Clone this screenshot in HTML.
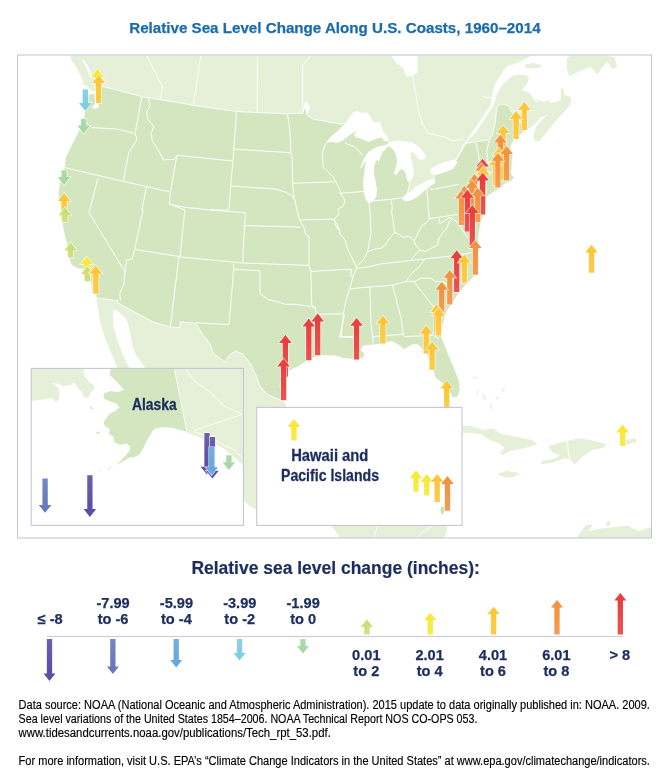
<!DOCTYPE html>
<html lang="en"><head><meta charset="utf-8"><title>Relative Sea Level Change Along U.S. Coasts, 1960–2014</title>
<style>html,body{margin:0;padding:0;background:#fff}svg{display:block}text{font-family:"Liberation Sans",Arial,sans-serif}</style></head><body>
<svg width="670" height="784" viewBox="0 0 670 784">
<rect width="670" height="784" fill="#fff"/>
<defs><linearGradient id="gv" x1="0" y1="0" x2="0" y2="1"><stop offset="0" stop-color="#6b60ac"/><stop offset="0.8" stop-color="#5b4fa3"/></linearGradient><linearGradient id="gbv" x1="0" y1="0" x2="0" y2="1"><stop offset="0" stop-color="#7785c3"/><stop offset="0.8" stop-color="#6878bd"/></linearGradient><linearGradient id="gb" x1="0" y1="0" x2="0" y2="1"><stop offset="0" stop-color="#74b0e1"/><stop offset="0.8" stop-color="#65a8de"/></linearGradient><linearGradient id="gc" x1="0" y1="0" x2="0" y2="1"><stop offset="0" stop-color="#89d3e4"/><stop offset="0.8" stop-color="#7ccfe2"/></linearGradient><linearGradient id="gg" x1="0" y1="0" x2="0" y2="1"><stop offset="0" stop-color="#aedbad"/><stop offset="0.8" stop-color="#a6d8a4"/></linearGradient><linearGradient id="gyg" x1="0" y1="0" x2="0" y2="1"><stop offset="0.2" stop-color="#cbdd74"/><stop offset="1" stop-color="#d0e081"/></linearGradient><linearGradient id="gy" x1="0" y1="0" x2="0" y2="1"><stop offset="0.2" stop-color="#f6e938"/><stop offset="1" stop-color="#f6eb4b"/></linearGradient><linearGradient id="ga" x1="0" y1="0" x2="0" y2="1"><stop offset="0.2" stop-color="#fcc636"/><stop offset="1" stop-color="#fccb4a"/></linearGradient><linearGradient id="go" x1="0" y1="0" x2="0" y2="1"><stop offset="0.2" stop-color="#f39240"/><stop offset="1" stop-color="#f49c53"/></linearGradient><linearGradient id="gr" x1="0" y1="0" x2="0" y2="1"><stop offset="0.2" stop-color="#e8403f"/><stop offset="1" stop-color="#ea5352"/></linearGradient><clipPath id="fr"><rect x="18" y="55.5" width="633.5" height="482.5"/></clipPath><clipPath id="ak"><rect x="31.2" y="368.4" width="212.2" height="156.9"/></clipPath><clipPath id="hib"><rect x="0" y="0" width="670" height="407.4"/></clipPath></defs>
<g clip-path="url(#fr)">
<path d="M70 55.5L70.1 55.3L71.3 59.6L77.3 69.1L82.6 79.9L82.6 89.4L84 97.8L84.5 112.1L83.3 121.6L78.5 131.2L71.3 145.5L65.4 157.5L64.2 167L59.4 183.7L58.2 193.3L60.6 207.6L61.8 221.9L64.2 233.9L66.6 243.4L67.8 255.4L71.3 264.9L77.3 268.5L85.7 269.7L89.3 279.3L94 291.2L96.4 297.9L97.5 306L100 321L104.8 337.8L110.7 352.1L116.7 366.4L119 372L150 400L200 470L243 500L250 506L257 510L300 520L331 525L340 538L445 538L448 525L440 500L380 470L300 440L283.6 400.3L282.4 395.5L280 386L282.4 378.8L289.6 370.4L297.9 366.9L305.1 362.1L314.6 357.3L324.2 355.4L336.1 356.1L343.3 358.5L352.8 359.2L354 360.3L363 358.5L364.8 354L361.2 349.6L363 346L371.9 345.1L380.9 344.2L391.6 341.5L398.8 345.1L404.2 349.6L411.4 345.1L416.7 344.2L422.1 348.7L427.5 355.8L430.4 365.8L434 373L435.2 377.8L440 381.3L443.6 384.9L449.6 392.1L453.1 398.1L457.9 396.9L460.3 389.7L459.1 380.1L454.3 368.2L448.4 353.9L441.2 336L441.5 329.4L445.1 317.5L447.5 310.3L453.4 301.9L459.4 292.4L466.6 284L472.5 278.1L478 272.6L479.5 266.1L478.7 255.4L479 241L478.4 237.5L481 223.1L483.7 214.2L484.6 201.6L487.3 196.3L492.7 192.7L499 189.1L505.2 183.7L511.5 181L514.2 177.5L511.5 174.8L512 165.8L512.8 155.1L510.9 146.1L513.9 140.1L518.4 137.2L522.1 132.7L527.3 129L530.3 127.5L534.8 124.5L540.7 117.8L547.5 114.5L549.7 113.3L542.2 119.3L536.3 126.7L533.3 135.7L534.8 140.9L539.3 141.6L543.7 135.7L549.7 128.2L557.2 119.3L564.6 111.8L570.6 104.3L571.3 98.4L569.1 96.9L564.6 102.1L560.1 99.9L555.7 102.1L549.7 103.1L540.7 103.6L536.3 102.1L532.5 96.9L528.8 92.4L522.1 89.4L526.6 84.9L528.8 79L527.3 75.2L519.9 74.5L512.4 76L504.9 82L499 89.4L496.5 95L494.2 104L483.4 121L471.8 137.2L470 135.4L479.9 121L487 110L490.6 105.8L492 95L494.5 84.9L499 77.5L504.2 70L507.2 66L514.3 64.3L523.9 59.6L532.2 55.3L532 55.5Z" fill="#e6f0d8"/>
<path d="M523.9 64.8L533.4 63.1L543 65.5L535.8 68.6L526.3 67.9Z" fill="#e6f0d8"/>
<path d="M560.9 89.4L563.3 88.2L564.5 95.4L570.4 96.6L566.9 103.7L562.1 103.7L560.9 97.8Z" fill="#e6f0d8"/>
<path d="M535.8 100.1L543 101.6L551.3 100.1L547.8 103.7L539.4 104Z" fill="#e6f0d8"/>
<path d="M566.9 58.4L571.6 55.3L605.1 55.3L614.6 57.2L617 66.7L612.2 69.1L607.5 61.9L602.7 66.7L597.9 73.9L594.3 71.5L590.7 66.7L578.8 71.5L569.3 76.3L566.9 69.1Z" fill="#e6f0d8"/>
<path d="M463 425.4L471.9 426.3L483.9 429.9L492.8 428.4L501.8 434.3L519.7 437.3L531.6 440.3L537.6 444.2L528.7 447.2L519.7 449.3L510.7 450.7L501.8 455.2L500.3 452.2L504.8 447.8L498.8 443.3L489.9 440.3L480.9 434.3L469 432.8L463 432.8Z" fill="#e6f0d8"/>
<path d="M548.1 446.3L558.5 443.3L570.4 440.3L579.4 438.2L591.3 440.3L606.3 444.2L603.3 447.8L591.3 450.7L582.4 456.7L574.9 464.2L570.4 459.7L564.5 458.2L552.5 462.7L540.6 464.2L542.1 461.2L555.5 458.2L560 455.2L552.5 452.2Z" fill="#e6f0d8"/>
<path d="M497.3 473.7L506.3 471L519.7 473.1L513.7 477L503.3 477Z" fill="#e6f0d8"/>
<path d="M622.7 440.3L636.1 438.2L636.7 441.8L625.7 444.8Z" fill="#e6f0d8"/>
<path d="M576.4 537.9L585.4 525.4L592.8 523.9L588.4 531.3L600.3 528.4L615.2 526.9L627.2 525.4L639.1 531.3L651 526.9L651 537.9Z" fill="#e6f0d8"/>
<path d="M605.7 522.4L609.3 520.9L610.7 524.8L606.9 526Z" fill="#e6f0d8"/>
<path d="M101.8 86L95.7 90.6L95.2 92.7L88.6 94.2L84.5 93.7L83.7 100.8L84.5 111L84 117.1L80.4 128.4L78.5 131.2L71.3 145.5L65.4 157.5L64.2 167L59.4 183.7L58.2 193.3L60.6 207.6L61.8 221.9L64.2 233.9L66.6 243.4L67.8 255.4L71.3 264.9L77.3 268.5L85.7 269.7L89.3 279.3L94 291.2L96.4 297.9L117.9 300.7L117.4 302.7L153.7 322.2L170.4 327L180 327.5L180 321.8L195.5 323.4L202.7 334.2L209.9 343.7L213.4 353.3L224.2 361.6L225.1 361.6L229.9 354.4L235.8 351.3L243 354.4L250.1 363.3L256.1 375.2L259.7 386L266.9 394.3L276.4 398.4L283.6 401.5L283.6 400.3L282.4 395.5L280 386L282.4 378.8L289.6 370.4L297.9 366.9L305.1 362.1L314.6 357.3L324.2 355.4L336.1 356.1L343.3 358.5L352.8 359.2L354 360.3L363 358.5L364.8 354L361.2 349.6L363 346L371.9 345.1L380.9 344.2L391.6 341.5L398.8 345.1L404.2 349.6L411.4 345.1L416.7 344.2L422.1 348.7L427.5 355.8L430.4 365.8L434 373L435.2 377.8L440 381.3L443.6 384.9L449.6 392.1L453.1 398.1L457.9 396.9L460.3 389.7L459.1 380.1L454.3 368.2L448.4 353.9L441.2 336L441.5 329.4L445.1 317.5L447.5 310.3L453.4 301.9L459.4 292.4L466.6 284L472.5 278.1L478 272.6L479.5 266.1L478.7 255.4L479 241L478.4 237.5L481 223.1L483.7 214.2L484.6 201.6L487.3 196.3L492.7 192.7L499 189.1L505.2 183.7L511.5 181L514.2 177.5L511.5 174.8L512 165.8L512.8 155.1L510.9 146.1L513.9 140.1L518.4 137.2L522.1 132.7L527.3 129L521 123L510.9 110.3L508.7 105.8L505.8 104.9L500.4 104L496.9 107.6L495.1 123.7L492.4 135.4L489.3 139.6L464.2 143.6L455.8 160.3L445.1 167L435.5 169.4L433.6 175.4L434.3 180.1L418.8 190.9L404.5 198.1L407.3 193.3L409.7 183.7L409.3 162.2L402.1 145.5L391.3 144.3L386.6 138.8L375.8 128.8L354.3 121.6L340 124L332.8 122.8L323.3 120.9L313.7 119.3L306.6 114.5L306.6 107.3L304.2 106.1L303 113.3L287.5 113.8L257.6 112.6L236.1 111.4L193.1 105.4L180 103L141.8 96.6L101.8 86Z" fill="#d3e6bf" stroke="#fff" stroke-width="0.9" stroke-linejoin="round"/>
<ellipse cx="484.2" cy="396.9" rx="1.6" ry="3.2" transform="rotate(-30 484.2 396.9)" fill="#e6f0d8" opacity="0.7"/>
<ellipse cx="491.3" cy="406.4" rx="1.4" ry="2.6" transform="rotate(-20 491.3 406.4)" fill="#e6f0d8" opacity="0.7"/>
<ellipse cx="474.6" cy="377.8" rx="2.2" ry="1.2" transform="rotate(-20 474.6 377.8)" fill="#e6f0d8" opacity="0.7"/>
<ellipse cx="503.3" cy="389.7" rx="1.2" ry="2.4" transform="rotate(30 503.3 389.7)" fill="#e6f0d8" opacity="0.7"/>
<ellipse cx="497" cy="398" rx="1.2" ry="2" transform="rotate(40 497 398)" fill="#e6f0d8" opacity="0.7"/>
<ellipse cx="478" cy="392" rx="1" ry="3.5" transform="rotate(10 478 392)" fill="#e6f0d8" opacity="0.7"/>
<path d="M326.3 142.1L330.7 136.7L336.1 132.2L341.5 126.9L346.9 121.5L349.6 117L353.1 112.5L356.7 110.7L362.1 112.9L367.5 112.2L371 117.9L373.7 122.4L380 121.5L381.8 126.9L383.6 132.2L386.3 134.9L388.1 138.5L387.2 142.1L383.6 140.3L381.8 137.6L377.3 138.5L372.8 140.3L368.4 142.1L364.8 140.3L360.3 138.5L355.8 137.6L354 134.9L356.7 131.3L353.1 133.1L348.7 135.8L345.1 138.5L341.5 141.2L337 143L332.5 142.1L326.3 142.6Z" fill="#fff"/>
<path d="M387.7 144.1L382.7 145.7L379.1 146.2L373.7 148.4L368.4 151.9L364.8 157.3L360.3 167.2L361.6 167.7L366.2 160L364.4 171.6L363 182.4L363.9 193.1L365.7 199.4L368.4 203L372.8 202.1L376.4 196.7L377 189.6L375.5 180.6L373.7 171.6L374.6 164.5L377.3 159.1L378.7 162.3L380.5 157L382.7 151.9L385.4 149.3L388.4 145.9Z" fill="#fff"/>
<path d="M387.7 143L391.6 141.6L398.8 140.8L406 141.6L413.1 143L417.6 145.7L421.2 149.3L424.8 153.7L425.7 158.2L422.1 160L417.6 159.1L415.8 155.5L413.1 151.9L410.5 153.7L411.3 159.1L413.1 166.3L414 173.4L412.2 178.8L408.7 182.8L406.9 179.7L406 175.2L404.2 170.8L401.5 169L398.8 171.6L396.1 175.2L393.8 173.4L395.2 169L397 162.7L396.1 155.5L394.3 151L390.8 147.5L388.1 145.7Z" fill="#fff"/>
<path d="M402.4 197.6L405.1 194.9L409.6 192.2L414.9 187.8L420.3 184.2L427.5 180.6L433.7 178.8L435.5 180.6L434.6 183.3L429.3 186.9L423.9 191.3L417.6 196.7L411.3 200.3L406 201.2L402.8 199.9Z" fill="#fff"/>
<path d="M429.6 171.8L431.9 168.2L435.5 165.8L445.1 161.8L454.6 159.4L457.5 162.2L453.4 168.7L442.7 173L434.3 175.4Z" fill="#fff"/>
<path d="M391.3 55.3L417.6 55.3L417.6 72.7L411.6 76.3L405.7 76.3L403.3 67.9L396.1 63.1Z" fill="#fff"/>
<path d="M303.7 103.7L306.6 101.3L310.1 107.3L307.8 113.3L304.7 109.7Z" fill="#fff"/>
<path d="M114.3 309.6L117.9 311.5L126.3 318.7L129.9 330.6L132.2 344.9L135.8 354.5L144.2 366.4L148 372L131 372L128.7 366.4L123.9 356.9L117.9 342.5L113.1 325.8L113.1 311.5Z" fill="#fff"/>
<path d="M78.9 84.3L86 85L90.6 89.8L95.2 91.4L95.7 93.9L88.6 94.2L86.7 89.8L80.4 89.8Z" fill="#fff"/>
<path d="M94.5 94.2L95.9 94.2L96.3 102.9L98.8 104.9L98.3 107.8L95.2 109L92.1 108L93.2 105.4L95.2 103.9Z" fill="#fff"/>
<path d="M81.9 60L84 60L88.1 66.1L90.6 73.3L92.4 76.8L90.6 77.3L89.1 73.8L86 66.6Z" fill="#fff"/>
<path d="M455.8 160.3L464.2 145.5L470.4 135.5" fill="none" stroke="#fff" stroke-width="1.3"/>
<path d="M482.1 96.6L490.4 97.8L493.3 100.6" fill="none" stroke="#fff" stroke-width="1"/>
<g fill="none" stroke="#fff" stroke-width="1" stroke-linejoin="round">
<path d="M141.8 96.6L135.3 132.4"/>
<path d="M85.7 121.6L91.6 127.6L115.5 128.8L135.3 133.6"/>
<path d="M135.3 133.6L137 139.6L128.7 152.7L123.2 181.3"/>
<path d="M64.2 167.5L123.2 181.3L170.4 192.1"/>
<path d="M98 177.9L89.1 212.7L125.1 272.1"/>
<path d="M146.6 186.8L141.8 210L143 210L134.6 249.4"/>
<path d="M148.2 97.8L150.1 106.1L146.6 112.1L147.8 119.3L153.7 126.4L151.3 133.6L152.5 141.9L157.3 147.9L160.9 155.1L163.3 159.9L174 159.4L176.9 155.3L232.1 161"/>
<path d="M176.9 155.3L170.4 192.1L169.3 204"/>
<path d="M169.3 204L180 206.4L180 206.4L187.2 207.6"/>
<path d="M236.6 111.6L233.7 149.1L233 161L230.6 186.1L229 210L211 210"/>
<path d="M233.7 149.1L291 152.7"/>
<path d="M287.5 113.8L289.9 131.2L291 152.7L292.2 159.9L292.7 183.3L293.4 193.3L297 210L297 210L299.4 219.6L304.2 227.9L305.4 233.9L309 236.3L309 265.4L310.9 272.1L311.8 305.5L315.6 307.9L316.1 313.9L319.7 353.3"/>
<path d="M230.6 186.1L275.5 189L285.1 192.1L292.2 195.7L294.1 199.3"/>
<path d="M292.7 183.3L335.2 181.8"/>
<path d="M326.1 143.1L322.1 152.7L323.3 167L332.8 176.6L336.4 182.5L340 190.9L340 193.3"/>
<path d="M125.1 272.1L126.3 260.1L132.2 259L134.6 249.4"/>
<path d="M125.1 272.1L123.9 284L119.8 293.6L120.3 300.7"/>
<path d="M134.6 249.4L180 256.6L180 257L242.6 263L309 265.4"/>
<path d="M178.8 256.6L170.4 327"/>
<path d="M169.3 204L184.8 210L180 256.6"/>
<path d="M187.2 207.6L211 210L245.7 212.9L244.5 225.5L242.6 263"/>
<path d="M244.5 225.5L300.6 227.2"/>
<path d="M233.7 263.7L233.7 269.7L229 324.6L195.5 322.7"/>
<path d="M233.7 269.2L260 270.9L260 293.6L268.4 299.6L277.9 301.9L285.1 304.3L294.6 304.3L304.2 305.5L311.3 306.7L315.6 307.9"/>
<path d="M299.4 220L332.8 219.1L336.4 223.1L340 231.5L340 233.9L344.8 239.9L348.4 250.6L353.1 260.1L356.7 267.3L353.1 276.9L349.6 288.8L346 300.7L343.6 312.7L342.4 324.6L341.2 336.6L354.3 336.6L356.7 346.1L360.3 358.1"/>
<path d="M310.1 271.6L340 269.7L340 269.7L351.9 269.2L350.7 275.7L353.1 276.9"/>
<path d="M316.6 314.4L340 313.9L340 313.9L343.6 313.2"/>
<path d="M344.8 143.1L354.3 146.7L362.7 155.1"/>
<path d="M340 193.3L363.9 191.4"/>
<path d="M373.4 200.9L391.3 199.3L403.3 197.6"/>
<path d="M391.3 199.3L392.5 210L391.3 210L394.9 232.7"/>
<path d="M426.9 188.8L429.3 218.4"/>
<path d="M431 187.9L431 189.7L458.8 184.3"/>
<path d="M476.1 143.1L478.5 155.1L479.7 164.6L480.9 179"/>
<path d="M489.3 140.3L486.9 150.3L488.1 164.6"/>
<path d="M479.7 164.6L495.2 161"/>
<path d="M480.9 174.2L492.8 171.8"/>
<path d="M368.7 201.6L369.9 210L371 233.9L367.5 251.8"/>
<path d="M356.7 266.8L363.9 259L367.5 251.8L373.4 249.4L379.4 248.2L380 248.8L385.4 245.2L389 239L394.3 232.7L397.9 233.6L403.3 237.2L409.6 236.3L414 240.8L416.7 236.3L418.5 231.8L422.1 225.5L426.6 222.8L429.3 218.4"/>
<path d="M356.7 268.5L368.7 266.8L380 264L410.4 260.5L451.6 256L473.1 252.4L480.3 251"/>
<path d="M410.4 260.5L415.8 254.2L420.3 250.2L415.8 245.2L414 240.8"/>
<path d="M420.3 250.2L425.7 251.5L430.2 248.8L437.3 245.2L439.1 238.1L442.7 232.7L447.2 227.3L449 221.9L452.5 218.4L457 221.9L460.6 227.3L464.2 232.7L467.8 238.1"/>
<path d="M439.1 218.4L440 223.7L444.5 221L449 217.5L452.5 218.4"/>
<path d="M429.3 218.7L457.9 214.4"/>
<path d="M349.6 288.8L369.9 286.9L392.5 285.2L405.7 281.6L414 281.2"/>
<path d="M424.8 259L418.8 267.3L411.6 273.3L405.7 281.6"/>
<path d="M414 281.6L421.2 278.1L430.7 278.1L435.5 281.6L442.7 281.6L459.4 292.4"/>
<path d="M369.9 286.9L371 324.6L373.4 343.7"/>
<path d="M392.5 285.2L400.9 317.5L403.3 334.2"/>
<path d="M372.2 336.6L403.3 334.2L404.5 336.6L433.1 335.4L439.1 339"/>
<path d="M414 281.6L421.2 291.2L430.7 303.1L440.3 315.1L443.9 318.7"/>
<path d="M344.5 314.3L339.7 337L352.8 337.7"/>
<path d="M340.2 193.3L343.4 197.5L345.2 201.9L342.5 206.4L338.1 209.1L339 213.6L336.3 217.2L334.1 219L335.4 225.2L339 230.6"/>
</g>
<g fill="none" stroke="#fff" stroke-width="0.9">
<path d="M377.4 526.6L373.7 538M431.5 526.6L424 531L416.6 538M567.5 441.8L568.2 450L569.5 460"/>
<path d="M146.6 55.3L153.7 69.1L162.1 85.8L160.9 99"/>
<path d="M201 55.3L193.1 105.4"/>
<path d="M257.6 55.3L257.1 112.6"/>
<path d="M311.3 55.3L302.5 65.5L302.5 112.6"/>
<path d="M412.8 76.3L415.2 90.6L418.8 112.1L422.4 124L429.6 133.6L445.1 137.2L452.2 140.7L464.2 138.8"/>
</g>
</g>
<rect x="17.5" y="55" width="634" height="483" fill="none" stroke="#c5c5d9" stroke-width="1.05"/>
<path d="M97.55 69L103.85 76.9L100.2 76.9L100.2 90.5L94.9 90.5L94.9 76.9L91.25 76.9Z" fill="url(#gy)" stroke="#fff" stroke-width="1.3" stroke-opacity="0.8" paint-order="stroke" stroke-linejoin="miter"/>
<path d="M98.6 75.1L104.9 83L101.25 83L101.25 103.1L95.95 103.1L95.95 83L92.3 83Z" fill="url(#ga)" stroke="#fff" stroke-width="1.3" stroke-opacity="0.8" paint-order="stroke" stroke-linejoin="miter"/>
<path d="M85.3 110.8L91.6 102.9L87.95 102.9L87.95 89.6L82.65 89.6L82.65 102.9L79 102.9Z" fill="url(#gc)" stroke="#fff" stroke-width="1.3" stroke-opacity="0.8" paint-order="stroke" stroke-linejoin="miter"/>
<path d="M83.7 133.5L90 125.6L86.35 125.6L86.35 118.7L81.05 118.7L81.05 125.6L77.4 125.6Z" fill="url(#gg)" stroke="#fff" stroke-width="1.3" stroke-opacity="0.8" paint-order="stroke" stroke-linejoin="miter"/>
<path d="M64.1 185L70.4 177.1L66.75 177.1L66.75 170.2L61.45 170.2L61.45 177.1L57.8 177.1Z" fill="url(#gg)" stroke="#fff" stroke-width="1.3" stroke-opacity="0.8" paint-order="stroke" stroke-linejoin="miter"/>
<path d="M64.1 193L70.4 200.9L66.75 200.9L66.75 221L61.45 221L61.45 200.9L57.8 200.9Z" fill="url(#ga)" stroke="#fff" stroke-width="1.3" stroke-opacity="0.8" paint-order="stroke" stroke-linejoin="miter"/>
<path d="M65 207.3L71.3 215.2L67.65 215.2L67.65 222.3L62.35 222.3L62.35 215.2L58.7 215.2Z" fill="url(#gyg)" stroke="#fff" stroke-width="1.3" stroke-opacity="0.8" paint-order="stroke" stroke-linejoin="miter"/>
<path d="M70.7 242.5L77 250.4L73.35 250.4L73.35 257.5L68.05 257.5L68.05 250.4L64.4 250.4Z" fill="url(#gyg)" stroke="#fff" stroke-width="1.3" stroke-opacity="0.8" paint-order="stroke" stroke-linejoin="miter"/>
<path d="M86.8 256.4L93.1 264.3L89.45 264.3L89.45 277.9L84.15 277.9L84.15 264.3L80.5 264.3Z" fill="url(#gy)" stroke="#fff" stroke-width="1.3" stroke-opacity="0.8" paint-order="stroke" stroke-linejoin="miter"/>
<path d="M87.3 266.3L93.6 274.2L89.95 274.2L89.95 281.3L84.65 281.3L84.65 274.2L81 274.2Z" fill="url(#gyg)" stroke="#fff" stroke-width="1.3" stroke-opacity="0.8" paint-order="stroke" stroke-linejoin="miter"/>
<path d="M95.3 264.6L101.6 272.5L97.95 272.5L97.95 292.6L92.65 292.6L92.65 272.5L89 272.5Z" fill="url(#ga)" stroke="#fff" stroke-width="1.3" stroke-opacity="0.8" paint-order="stroke" stroke-linejoin="miter"/>
<path d="M95.9 265.8L102.2 273.7L98.55 273.7L98.55 293.8L93.25 293.8L93.25 273.7L89.6 273.7Z" fill="url(#ga)" stroke="#fff" stroke-width="1.3" stroke-opacity="0.8" paint-order="stroke" stroke-linejoin="miter"/>
<path d="M285.4 335L291.7 342.9L288.05 342.9L288.05 376.7L282.75 376.7L282.75 342.9L279.1 342.9Z" fill="url(#gr)" stroke="#fff" stroke-width="1.3" stroke-opacity="0.8" paint-order="stroke" stroke-linejoin="miter"/>
<path d="M283.6 358.6L289.9 366.5L286.25 366.5L286.25 400.3L280.95 400.3L280.95 366.5L277.3 366.5Z" fill="url(#gr)" stroke="#fff" stroke-width="1.3" stroke-opacity="0.8" paint-order="stroke" stroke-linejoin="miter"/>
<path d="M308.8 318.5L315.1 326.4L311.45 326.4L311.45 360.2L306.15 360.2L306.15 326.4L302.5 326.4Z" fill="url(#gr)" stroke="#fff" stroke-width="1.3" stroke-opacity="0.8" paint-order="stroke" stroke-linejoin="miter"/>
<path d="M317.7 313.6L324 321.5L320.35 321.5L320.35 355.3L315.05 355.3L315.05 321.5L311.4 321.5Z" fill="url(#gr)" stroke="#fff" stroke-width="1.3" stroke-opacity="0.8" paint-order="stroke" stroke-linejoin="miter"/>
<path d="M356.6 317.9L362.9 325.8L359.25 325.8L359.25 359.6L353.95 359.6L353.95 325.8L350.3 325.8Z" fill="url(#gr)" stroke="#fff" stroke-width="1.3" stroke-opacity="0.8" paint-order="stroke" stroke-linejoin="miter"/>
<path d="M382.9 315.5L389.2 323.4L385.55 323.4L385.55 343.5L380.25 343.5L380.25 323.4L376.6 323.4Z" fill="url(#ga)" stroke="#fff" stroke-width="1.3" stroke-opacity="0.8" paint-order="stroke" stroke-linejoin="miter"/>
<path d="M524.3 102.1L530.6 110L526.95 110L526.95 130.1L521.65 130.1L521.65 110L518 110Z" fill="url(#ga)" stroke="#fff" stroke-width="1.3" stroke-opacity="0.8" paint-order="stroke" stroke-linejoin="miter"/>
<path d="M516.1 111L522.4 118.9L518.75 118.9L518.75 139L513.45 139L513.45 118.9L509.8 118.9Z" fill="url(#ga)" stroke="#fff" stroke-width="1.3" stroke-opacity="0.8" paint-order="stroke" stroke-linejoin="miter"/>
<path d="M503.1 125.2L509.4 133.1L505.75 133.1L505.75 153.2L500.45 153.2L500.45 133.1L496.8 133.1Z" fill="url(#ga)" stroke="#fff" stroke-width="1.3" stroke-opacity="0.8" paint-order="stroke" stroke-linejoin="miter"/>
<path d="M500.4 134.5L506.7 142.4L503.05 142.4L503.05 169.1L497.75 169.1L497.75 142.4L494.1 142.4Z" fill="url(#go)" stroke="#fff" stroke-width="1.3" stroke-opacity="0.8" paint-order="stroke" stroke-linejoin="miter"/>
<path d="M499 147.6L505.3 155.5L501.65 155.5L501.65 175.6L496.35 175.6L496.35 155.5L492.7 155.5Z" fill="url(#ga)" stroke="#fff" stroke-width="1.3" stroke-opacity="0.8" paint-order="stroke" stroke-linejoin="miter"/>
<path d="M501.5 152.6L507.8 160.5L504.15 160.5L504.15 180.6L498.85 180.6L498.85 160.5L495.2 160.5Z" fill="url(#ga)" stroke="#fff" stroke-width="1.3" stroke-opacity="0.8" paint-order="stroke" stroke-linejoin="miter"/>
<path d="M506.7 146L513 153.9L509.35 153.9L509.35 180.6L504.05 180.6L504.05 153.9L500.4 153.9Z" fill="url(#go)" stroke="#fff" stroke-width="1.3" stroke-opacity="0.8" paint-order="stroke" stroke-linejoin="miter"/>
<path d="M495.5 157L501.8 164.9L498.15 164.9L498.15 185L492.85 185L492.85 164.9L489.2 164.9Z" fill="url(#ga)" stroke="#fff" stroke-width="1.3" stroke-opacity="0.8" paint-order="stroke" stroke-linejoin="miter"/>
<path d="M497.9 152.9L504.2 160.8L500.55 160.8L500.55 187.5L495.25 187.5L495.25 160.8L491.6 160.8Z" fill="url(#go)" stroke="#fff" stroke-width="1.3" stroke-opacity="0.8" paint-order="stroke" stroke-linejoin="miter"/>
<path d="M482.65 158.7L488.95 166.6L485.3 166.6L485.3 200.4L480 200.4L480 166.6L476.35 166.6Z" fill="url(#gr)" stroke="#fff" stroke-width="1.3" stroke-opacity="0.8" paint-order="stroke" stroke-linejoin="miter"/>
<path d="M481.6 162.8L487.9 170.7L484.25 170.7L484.25 197.4L478.95 197.4L478.95 170.7L475.3 170.7Z" fill="url(#go)" stroke="#fff" stroke-width="1.3" stroke-opacity="0.8" paint-order="stroke" stroke-linejoin="miter"/>
<path d="M483.2 166.8L489.5 174.7L485.85 174.7L485.85 194.8L480.55 194.8L480.55 174.7L476.9 174.7Z" fill="url(#ga)" stroke="#fff" stroke-width="1.3" stroke-opacity="0.8" paint-order="stroke" stroke-linejoin="miter"/>
<path d="M474.5 174L480.8 181.9L477.15 181.9L477.15 208.6L471.85 208.6L471.85 181.9L468.2 181.9Z" fill="url(#go)" stroke="#fff" stroke-width="1.3" stroke-opacity="0.8" paint-order="stroke" stroke-linejoin="miter"/>
<path d="M471.9 180.1L478.2 188L474.55 188L474.55 214.7L469.25 214.7L469.25 188L465.6 188Z" fill="url(#go)" stroke="#fff" stroke-width="1.3" stroke-opacity="0.8" paint-order="stroke" stroke-linejoin="miter"/>
<path d="M482.65 172.7L488.95 180.6L485.3 180.6L485.3 214.4L480 214.4L480 180.6L476.35 180.6Z" fill="url(#gr)" stroke="#fff" stroke-width="1.3" stroke-opacity="0.8" paint-order="stroke" stroke-linejoin="miter"/>
<path d="M464.3 185.7L470.6 193.6L466.95 193.6L466.95 220.3L461.65 220.3L461.65 193.6L458 193.6Z" fill="url(#go)" stroke="#fff" stroke-width="1.3" stroke-opacity="0.8" paint-order="stroke" stroke-linejoin="miter"/>
<path d="M461.4 190.5L467.7 198.4L464.05 198.4L464.05 225.1L458.75 225.1L458.75 198.4L455.1 198.4Z" fill="url(#go)" stroke="#fff" stroke-width="1.3" stroke-opacity="0.8" paint-order="stroke" stroke-linejoin="miter"/>
<path d="M477.75 187.75L484.05 195.65L480.4 195.65L480.4 222.35L475.1 222.35L475.1 195.65L471.45 195.65Z" fill="url(#go)" stroke="#fff" stroke-width="1.3" stroke-opacity="0.8" paint-order="stroke" stroke-linejoin="miter"/>
<path d="M467.4 189.8L473.7 197.7L470.05 197.7L470.05 231.5L464.75 231.5L464.75 197.7L461.1 197.7Z" fill="url(#gr)" stroke="#fff" stroke-width="1.3" stroke-opacity="0.8" paint-order="stroke" stroke-linejoin="miter"/>
<path d="M472.3 205.1L478.6 213L474.95 213L474.95 246.8L469.65 246.8L469.65 213L466 213Z" fill="url(#gr)" stroke="#fff" stroke-width="1.3" stroke-opacity="0.8" paint-order="stroke" stroke-linejoin="miter"/>
<path d="M475.35 240.2L481.65 248.1L478 248.1L478 274.8L472.7 274.8L472.7 248.1L469.05 248.1Z" fill="url(#go)" stroke="#fff" stroke-width="1.3" stroke-opacity="0.8" paint-order="stroke" stroke-linejoin="miter"/>
<path d="M456.7 250.3L463 258.2L459.35 258.2L459.35 292L454.05 292L454.05 258.2L450.4 258.2Z" fill="url(#gr)" stroke="#fff" stroke-width="1.3" stroke-opacity="0.8" paint-order="stroke" stroke-linejoin="miter"/>
<path d="M464.4 254.75L470.7 262.65L467.05 262.65L467.05 282.75L461.75 282.75L461.75 262.65L458.1 262.65Z" fill="url(#ga)" stroke="#fff" stroke-width="1.3" stroke-opacity="0.8" paint-order="stroke" stroke-linejoin="miter"/>
<path d="M449.8 269.9L456.1 277.8L452.45 277.8L452.45 304.5L447.15 304.5L447.15 277.8L443.5 277.8Z" fill="url(#go)" stroke="#fff" stroke-width="1.3" stroke-opacity="0.8" paint-order="stroke" stroke-linejoin="miter"/>
<path d="M441.7 281.8L448 289.7L444.35 289.7L444.35 316.4L439.05 316.4L439.05 289.7L435.4 289.7Z" fill="url(#go)" stroke="#fff" stroke-width="1.3" stroke-opacity="0.8" paint-order="stroke" stroke-linejoin="miter"/>
<path d="M436.7 304.3L443 312.2L439.35 312.2L439.35 332.3L434.05 332.3L434.05 312.2L430.4 312.2Z" fill="url(#ga)" stroke="#fff" stroke-width="1.3" stroke-opacity="0.8" paint-order="stroke" stroke-linejoin="miter"/>
<path d="M438.6 307.6L444.9 315.5L441.25 315.5L441.25 335.6L435.95 335.6L435.95 315.5L432.3 315.5Z" fill="url(#ga)" stroke="#fff" stroke-width="1.3" stroke-opacity="0.8" paint-order="stroke" stroke-linejoin="miter"/>
<path d="M426.2 325.6L432.5 333.5L428.85 333.5L428.85 353.6L423.55 353.6L423.55 333.5L419.9 333.5Z" fill="url(#ga)" stroke="#fff" stroke-width="1.3" stroke-opacity="0.8" paint-order="stroke" stroke-linejoin="miter"/>
<path d="M432.1 341.8L438.4 349.7L434.75 349.7L434.75 369.8L429.45 369.8L429.45 349.7L425.8 349.7Z" fill="url(#ga)" stroke="#fff" stroke-width="1.3" stroke-opacity="0.8" paint-order="stroke" stroke-linejoin="miter"/>
<path d="M446.7 380.6L453 388.5L449.35 388.5L449.35 408.6L444.05 408.6L444.05 388.5L440.4 388.5Z" fill="url(#ga)" stroke="#fff" stroke-width="1.3" stroke-opacity="0.8" paint-order="stroke" stroke-linejoin="miter"/>
<path d="M591.5 244.7L597.8 252.6L594.15 252.6L594.15 272.7L588.85 272.7L588.85 252.6L585.2 252.6Z" fill="url(#ga)" stroke="#fff" stroke-width="1.3" stroke-opacity="0.8" paint-order="stroke" stroke-linejoin="miter"/>
<path d="M622.7 424.5L629 432.4L625.35 432.4L625.35 446L620.05 446L620.05 432.4L616.4 432.4Z" fill="url(#gy)" stroke="#fff" stroke-width="1.3" stroke-opacity="0.8" paint-order="stroke" stroke-linejoin="miter"/>
<rect x="31.2" y="368.4" width="212.2" height="156.9" fill="#fff"/>
<g clip-path="url(#ak)">
<path d="M30 368.6L83.7 368.6L84.6 375.7L89.1 382L93.6 384.7L94.5 390.1L90.9 391.9L88.2 398.1L83.7 397.2L81.9 391.9L77.5 387.4L73.9 382L71.2 384.7L67.6 385.6L63.1 386.5L58.7 383.8L51.5 382.9L56.9 386.5L59.6 391.9L58.7 399.9L55.1 401.7L52.4 398.1L46.1 399L39 399.9L30 400.8Z" fill="#e6f0d8"/>
<path d="M174.2 368.4L243.4 368.4L243.4 462.7L235.1 455.5L220.7 443.6L208.8 438.8L194.5 432.8L186.6 430.4Z" fill="#e6f0d8"/>
<path d="M110.6 368.6L174.2 368.4L186.6 430.4L186.1 431.6L173 428.1L161 426.9L153.9 429.3L150.3 434.5L147.9 438.8L143.1 448.8L139.6 454.3L133.6 457.4L130.3 457.2L121.3 462.6L116.9 464.4L119.6 461.7L124.9 456.3L129.4 451L130.3 446.5L126.7 443.8L119.6 444.7L114.2 442L113.3 436.6L108.8 434L109.7 428.6L105.2 426.8L103.4 422.3L107.9 416L111.5 412.5L116 410.7L119.6 407.1L116 403.5L108.8 400.8L104.3 399L103.4 393.7L110.6 391L117.8 391.9L124 390.1L119.6 384.7L114.2 379.3L109.7 374.9Z" fill="#d3e6bf"/>
<path d="M96.6 431.6L99.9 432.3L99 434.1L96.3 433.4Z" fill="#d3e6bf"/>
<path d="M88.2 405.8L91.8 407.6L93.6 409.8L90.9 409.1Z" fill="#d3e6bf"/>
<path d="M114.2 465.3L110.6 468L107 469.8L108.1 468.5L111.5 466.4Z" fill="#d3e6bf"/>
<path d="M101.6 470.7L98.1 472.5L98.8 471.4Z" fill="#d3e6bf"/>
<path d="M89.1 475.2L83.7 477.5L84.8 476.2Z" fill="#d3e6bf"/>
<path d="M186.6 430.4L194.5 430.4L208.8 435.9L221.9 441.2L236.3 453.1L243.4 460.3L243.4 465.1L235.1 457.9L220.7 446.4L208.8 441.2L194.5 435.2L186.1 432.1Z" fill="#e6f0d8"/>
<g fill="none" stroke="#fff" stroke-width="0.8">
<path d="M193.6 431.6L207 436L222 444L234.8 450.4L243 458"/>
<path d="M174.2 368.4L186.6 430.4"/>
<path d="M194.5 430.4L242.2 414.4"/>
<path d="M186.1 368.4L192.1 379.1L208.8 391L223.1 405.4L235.1 411.3L242.2 413.7"/>
</g></g>
<rect x="31.2" y="368.4" width="212.2" height="156.9" fill="none" stroke="#c5c5d9" stroke-width="1.1"/>
<path d="M45.1 512.8L51.4 504.9L47.75 504.9L47.75 478.5L42.45 478.5L42.45 504.9L38.8 504.9Z" fill="url(#gbv)" stroke="#fff" stroke-width="1.3" stroke-opacity="0.8" paint-order="stroke" stroke-linejoin="miter"/>
<path d="M89.9 516.9L96.2 509L92.55 509L92.55 475.3L87.25 475.3L87.25 509L83.6 509Z" fill="url(#gv)" stroke="#fff" stroke-width="1.3" stroke-opacity="0.8" paint-order="stroke" stroke-linejoin="miter"/>
<path d="M207 474.6L213.3 466.7L209.65 466.7L209.65 433L204.35 433L204.35 466.7L200.7 466.7Z" fill="url(#gv)" stroke="#fff" stroke-width="1.3" stroke-opacity="0.8" paint-order="stroke" stroke-linejoin="miter"/>
<path d="M212.4 478.6L218.7 470.7L215.05 470.7L215.05 437L209.75 437L209.75 470.7L206.1 470.7Z" fill="url(#gv)" stroke="#fff" stroke-width="1.3" stroke-opacity="0.8" paint-order="stroke" stroke-linejoin="miter"/>
<path d="M211.7 475.1L218 467.2L214.35 467.2L214.35 447.1L209.05 447.1L209.05 467.2L205.4 467.2Z" fill="url(#gb)" stroke="#fff" stroke-width="1.3" stroke-opacity="0.8" paint-order="stroke" stroke-linejoin="miter"/>
<path d="M228.9 470.1L235.2 462.2L231.55 462.2L231.55 455.3L226.25 455.3L226.25 462.2L222.6 462.2Z" fill="url(#gg)" stroke="#fff" stroke-width="1.3" stroke-opacity="0.8" paint-order="stroke" stroke-linejoin="miter"/>
<rect x="256.7" y="407.4" width="205.3" height="118" fill="#fff" stroke="#c5c5d9" stroke-width="1.1"/>
<path d="M440.4 510l1-3 2.5-0.6 0.8 2.6-0.6 3-1.2 2.2-2-0.4z" fill="#c9e0b8"/>
<path d="M293.9 419L300.2 426.9L296.55 426.9L296.55 440.5L291.25 440.5L291.25 426.9L287.6 426.9Z" fill="url(#gy)" stroke="#fff" stroke-width="1.3" stroke-opacity="0.8" paint-order="stroke" stroke-linejoin="miter"/>
<path d="M416 470.3L422.3 478.2L418.65 478.2L418.65 491.8L413.35 491.8L413.35 478.2L409.7 478.2Z" fill="url(#gy)" stroke="#fff" stroke-width="1.3" stroke-opacity="0.8" paint-order="stroke" stroke-linejoin="miter"/>
<path d="M426.75 474L433.05 481.9L429.4 481.9L429.4 495.5L424.1 495.5L424.1 481.9L420.45 481.9Z" fill="url(#gy)" stroke="#fff" stroke-width="1.3" stroke-opacity="0.8" paint-order="stroke" stroke-linejoin="miter"/>
<path d="M437.2 473.9L443.5 481.8L439.85 481.8L439.85 501.9L434.55 501.9L434.55 481.8L430.9 481.8Z" fill="url(#ga)" stroke="#fff" stroke-width="1.3" stroke-opacity="0.8" paint-order="stroke" stroke-linejoin="miter"/>
<path d="M447.5 476.1L453.8 484L450.15 484L450.15 510.7L444.85 510.7L444.85 484L441.2 484Z" fill="url(#go)" stroke="#fff" stroke-width="1.3" stroke-opacity="0.8" paint-order="stroke" stroke-linejoin="miter"/>
<text x="132" y="409.7" font-size="16" font-weight="bold" fill="#1c2d5e" text-anchor="start" textLength="44.6" lengthAdjust="spacingAndGlyphs" stroke="#1c2d5e" stroke-width="0.3">Alaska</text>
<text x="291.2" y="461.4" font-size="16.4" font-weight="bold" fill="#1c2d5e" text-anchor="start" textLength="77.2" lengthAdjust="spacingAndGlyphs" stroke="#1c2d5e" stroke-width="0.3">Hawaii and</text>
<text x="281" y="481.1" font-size="16.4" font-weight="bold" fill="#1c2d5e" text-anchor="start" textLength="98" lengthAdjust="spacingAndGlyphs" stroke="#1c2d5e" stroke-width="0.3">Pacific Islands</text>
<text x="129.2" y="32.6" font-size="15.3" font-weight="bold" fill="#1a6cad" text-anchor="start" textLength="411.4" lengthAdjust="spacingAndGlyphs" stroke="#1a6cad" stroke-width="0.25">Relative Sea Level Change Along U.S. Coasts, 1960–2014</text>
<text x="191.4" y="573.9" font-size="18" font-weight="bold" fill="#1c2d5e" text-anchor="start" textLength="288.4" lengthAdjust="spacingAndGlyphs" stroke="#1c2d5e" stroke-width="0.2">Relative sea level change (inches):</text>
<rect x="46.7" y="635.9" width="576.1" height="1.2" fill="#cdcdde"/>
<path d="M49.5 681L55.5 673.6L52.15 673.6L52.15 639L46.85 639L46.85 673.6L43.5 673.6Z" fill="url(#gv)"/>
<path d="M112.86 674L118.86 666.6L115.51 666.6L115.51 639L110.21 639L110.21 666.6L106.86 666.6Z" fill="url(#gbv)"/>
<path d="M176.22 667.5L182.22 660.1L178.87 660.1L178.87 639L173.57 639L173.57 660.1L170.22 660.1Z" fill="url(#gb)"/>
<path d="M239.58 660.5L245.58 653.1L242.23 653.1L242.23 639L236.93 639L236.93 653.1L233.58 653.1Z" fill="url(#gc)"/>
<path d="M302.94 653.5L308.94 646.1L305.59 646.1L305.59 639L300.29 639L300.29 646.1L296.94 646.1Z" fill="url(#gg)"/>
<path d="M366.9 619.5L372.9 626.9L369.55 626.9L369.55 634.5L364.25 634.5L364.25 626.9L360.9 626.9Z" fill="url(#gyg)"/>
<path d="M430.26 612.7L436.26 620.1L432.91 620.1L432.91 634.5L427.61 634.5L427.61 620.1L424.26 620.1Z" fill="url(#gy)"/>
<path d="M493.62 606.7L499.62 614.1L496.27 614.1L496.27 634.5L490.97 634.5L490.97 614.1L487.62 614.1Z" fill="url(#ga)"/>
<path d="M556.98 600L562.98 607.4L559.63 607.4L559.63 634.5L554.33 634.5L554.33 607.4L550.98 607.4Z" fill="url(#go)"/>
<path d="M620.34 593L626.34 600.4L622.99 600.4L622.99 634.5L617.69 634.5L617.69 600.4L614.34 600.4Z" fill="url(#gr)"/>
<text x="50.2" y="624.4" font-size="14.6" font-weight="bold" fill="#1c2d5e" text-anchor="middle" stroke="#1c2d5e" stroke-width="0.25">≤ -8</text>
<text x="113.06" y="608.2" font-size="14.6" font-weight="bold" fill="#1c2d5e" text-anchor="middle" stroke="#1c2d5e" stroke-width="0.25">-7.99</text>
<text x="113.06" y="624.4" font-size="14.6" font-weight="bold" fill="#1c2d5e" text-anchor="middle" stroke="#1c2d5e" stroke-width="0.25">to -6</text>
<text x="176.42" y="608.2" font-size="14.6" font-weight="bold" fill="#1c2d5e" text-anchor="middle" stroke="#1c2d5e" stroke-width="0.25">-5.99</text>
<text x="176.42" y="624.4" font-size="14.6" font-weight="bold" fill="#1c2d5e" text-anchor="middle" stroke="#1c2d5e" stroke-width="0.25">to -4</text>
<text x="239.78" y="608.2" font-size="14.6" font-weight="bold" fill="#1c2d5e" text-anchor="middle" stroke="#1c2d5e" stroke-width="0.25">-3.99</text>
<text x="239.78" y="624.4" font-size="14.6" font-weight="bold" fill="#1c2d5e" text-anchor="middle" stroke="#1c2d5e" stroke-width="0.25">to -2</text>
<text x="303.14" y="608.2" font-size="14.6" font-weight="bold" fill="#1c2d5e" text-anchor="middle" stroke="#1c2d5e" stroke-width="0.25">-1.99</text>
<text x="303.14" y="624.4" font-size="14.6" font-weight="bold" fill="#1c2d5e" text-anchor="middle" stroke="#1c2d5e" stroke-width="0.25">to 0</text>
<text x="366.3" y="660.2" font-size="14.6" font-weight="bold" fill="#1c2d5e" text-anchor="middle" stroke="#1c2d5e" stroke-width="0.25">0.01</text>
<text x="366.3" y="676" font-size="14.6" font-weight="bold" fill="#1c2d5e" text-anchor="middle" stroke="#1c2d5e" stroke-width="0.25">to 2</text>
<text x="429.66" y="660.2" font-size="14.6" font-weight="bold" fill="#1c2d5e" text-anchor="middle" stroke="#1c2d5e" stroke-width="0.25">2.01</text>
<text x="429.66" y="676" font-size="14.6" font-weight="bold" fill="#1c2d5e" text-anchor="middle" stroke="#1c2d5e" stroke-width="0.25">to 4</text>
<text x="493.02" y="660.2" font-size="14.6" font-weight="bold" fill="#1c2d5e" text-anchor="middle" stroke="#1c2d5e" stroke-width="0.25">4.01</text>
<text x="493.02" y="676" font-size="14.6" font-weight="bold" fill="#1c2d5e" text-anchor="middle" stroke="#1c2d5e" stroke-width="0.25">to 6</text>
<text x="556.38" y="660.2" font-size="14.6" font-weight="bold" fill="#1c2d5e" text-anchor="middle" stroke="#1c2d5e" stroke-width="0.25">6.01</text>
<text x="556.38" y="676" font-size="14.6" font-weight="bold" fill="#1c2d5e" text-anchor="middle" stroke="#1c2d5e" stroke-width="0.25">to 8</text>
<text x="619.74" y="660.2" font-size="14.6" font-weight="bold" fill="#1c2d5e" text-anchor="middle" stroke="#1c2d5e" stroke-width="0.25">&gt; 8</text>
<text x="18.6" y="709" font-size="12" font-weight="normal" fill="#000" text-anchor="start" textLength="631.3" lengthAdjust="spacingAndGlyphs" stroke="#000" stroke-width="0.15">Data source: NOAA (National Oceanic and Atmospheric Administration). 2015 update to data originally published in: NOAA. 2009.</text>
<text x="18.6" y="722.8" font-size="12" font-weight="normal" fill="#000" text-anchor="start" textLength="458.8" lengthAdjust="spacingAndGlyphs" stroke="#000" stroke-width="0.15">Sea level variations of the United States 1854–2006. NOAA Technical Report NOS CO-OPS 053.</text>
<text x="18.6" y="736.7" font-size="12" font-weight="normal" fill="#000" text-anchor="start" textLength="312.2" lengthAdjust="spacingAndGlyphs" stroke="#000" stroke-width="0.15">www.tidesandcurrents.noaa.gov/publications/Tech_rpt_53.pdf.</text>
<text x="18.6" y="764.9" font-size="12" font-weight="normal" fill="#000" text-anchor="start" textLength="631.3" lengthAdjust="spacingAndGlyphs" stroke="#000" stroke-width="0.15">For more information, visit U.S. EPA’s “Climate Change Indicators in the United States” at www.epa.gov/climatechange/indicators.</text>
</svg></body></html>
